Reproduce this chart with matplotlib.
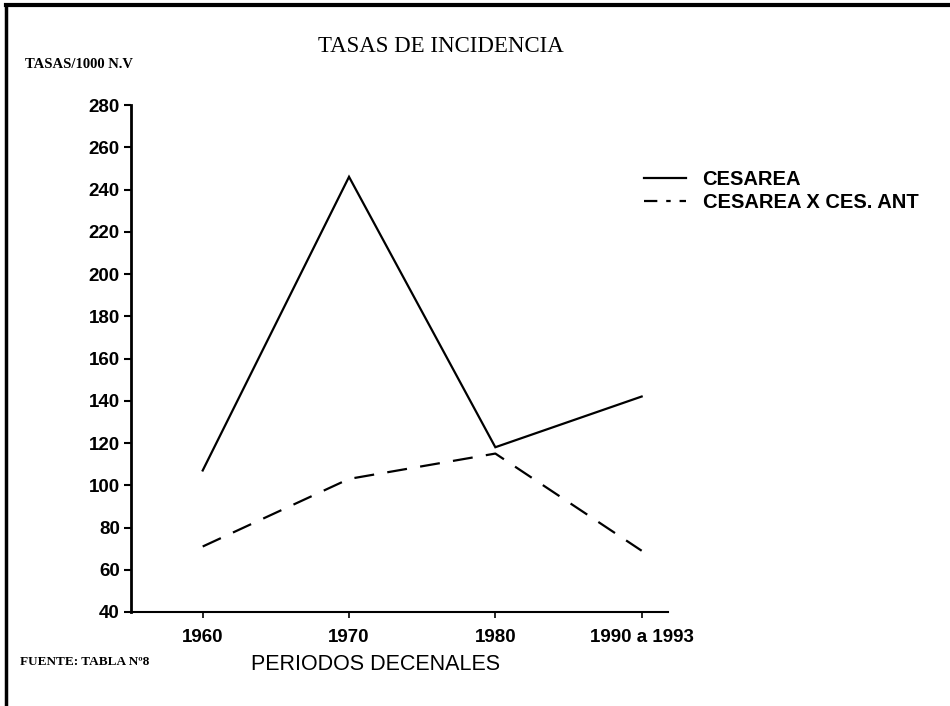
import matplotlib
matplotlib.use("Agg")
import matplotlib.pyplot as plt
from matplotlib.lines import Line2D

categories = ["1960", "1970", "1980", "1990 a 1993"]
cesarea = [107, 246, 118, 142]
cesarea_ant = [71, 103, 115, 69]
yticks = [40, 60, 80, 100, 120, 140, 160, 180, 200, 220, 240, 260, 280]

fig = plt.figure(figsize=(9.5, 7.06), dpi=100)
ax = fig.add_axes([131/950, 1 - 612/706, (668 - 131)/950, (612 - 105)/706])

x = list(range(len(categories)))
ax.plot(x, cesarea, color="black", lw=1.6, solid_joinstyle="miter")
ax.plot(x, cesarea_ant, color="black", lw=1.6, dashes=(9, 6))

ax.set_xlim(-0.49, 3.18)
ax.set_ylim(40, 280)
ax.set_yticks(yticks)
ax.set_xticks(x)
ax.set_xticklabels(categories)
for s in ["top", "right"]:
    ax.spines[s].set_visible(False)
ax.spines["left"].set_linewidth(2)
ax.spines["bottom"].set_linewidth(1.5)
ax.tick_params(axis="y", direction="out", length=5, width=1.5, pad=3)
ax.tick_params(axis="x", direction="out", length=4, width=1.2, pad=8)
for lab in ax.get_yticklabels() + ax.get_xticklabels():
    lab.set_fontfamily("Liberation Sans")
    lab.set_fontweight("bold")
    lab.set_fontsize(13.5)

# titles / texts
fig.text(441/950, 1 - 46/706, "TASAS DE INCIDENCIA", ha="center", va="center",
         family="Liberation Serif", fontsize=16.5)
fig.text(25/950, 1 - 65/706, "TASAS/1000 N.V", ha="left", va="center",
         family="Liberation Serif", fontweight="bold", fontsize=10.5)
fig.text(20/950, 1 - 662/706, "FUENTE: TABLA Nº8", ha="left", va="center",
         family="Liberation Serif", fontweight="bold", fontsize=9.5)
fig.text(376/950, 1 - 664/706, "PERIODOS DECENALES", ha="center", va="center",
         family="Liberation Sans", fontsize=15.5)

# legend
leg_handles = [Line2D([], [], color="black", lw=1.6),
               Line2D([], [], color="black", lw=1.6, dashes=(6, 4, 2, 4))]
leg = fig.legend(leg_handles, ["CESAREA", "CESAREA X CES. ANT"],
                 loc="upper left", bbox_to_anchor=(626/950, 1 - 152/706),
                 frameon=False, handlelength=2.1, handletextpad=0.8,
                 labelspacing=0.2, prop={"family": "Liberation Sans",
                                          "weight": "bold", "size": 14.5})

# border lines (scanned frame)
fig.add_artist(Line2D([6/950, 6/950], [0, 1 - 5/706], color="black", lw=2.5,
                      transform=fig.transFigure))
fig.add_artist(Line2D([6/950, 1], [1 - 5/706, 1 - 5/706], color="black", lw=3,
                      transform=fig.transFigure))

fig.savefig("out.png", dpi=100)
